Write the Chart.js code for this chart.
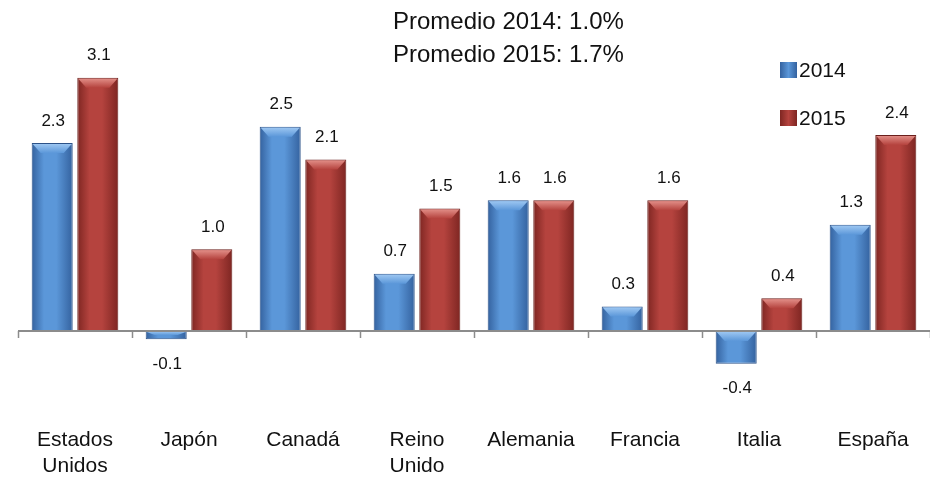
<!DOCTYPE html>
<html>
<head>
<meta charset="utf-8">
<script src="https://cdn.jsdelivr.net/npm/chart.js@4.4.1/dist/chart.umd.min.js"></script>
<style>
  html, body { margin: 0; padding: 0; background: #fff; }
  #wrap { width: 930px; height: 482px; }
</style>
</head>
<body>
<div id="wrap"><canvas id="grafico"></canvas></div>
<script>
const paises = [['Estados', 'Unidos'], 'Japón', 'Canadá', ['Reino', 'Unido'], 'Alemania', 'Francia', 'Italia', 'España'];
const series = ['2014', '2015'];
const valores2014 = [2.3, -0.1, 2.5, 0.7, 1.6, 0.3, -0.4, 1.3];
const valores2015 = [3.1, 1.0, 2.1, 1.5, 1.6, 1.6, 0.4, 2.4];
const promedios = ['Promedio 2014: 1.0%', 'Promedio 2015: 1.7%'];

const FONT = '"Liberation Sans", Arial, sans-serif';
const CAT_PCT = 0.8, BAR_PCT = 0.9;

const tonos = [
    { dark: '#34629f', light: '#5b97d9', mid: '#4a7fc0', hi: '#a3cbf4', edge: '#2c5288' },
    { dark: '#7e2622', light: '#b5433e', mid: '#a0372f', hi: '#e6958e', edge: '#6a1f1c' }
];

function barColor(ctx) {
    const t = tonos[ctx.datasetIndex];
    if (ctx.type !== 'data') return t.mid;
    const xs = ctx.chart.scales.x;
    if (!xs || !xs.width) return t.mid;
    const cw = xs.width / paises.length;
    const slot = cw * CAT_PCT / 2;
    const cx = xs.getPixelForValue(ctx.dataIndex) + (ctx.datasetIndex === 0 ? -slot / 2 : slot / 2);
    const w = slot * BAR_PCT;
    const g = ctx.chart.ctx.createLinearGradient(cx - w / 2, 0, cx + w / 2, 0);
    g.addColorStop(0, t.dark);
    g.addColorStop(0.3, t.light);
    g.addColorStop(0.6, t.light);
    g.addColorStop(1, t.dark);
    return g;
}

const decoracion = {
    id: 'decoracion',
    afterDatasetsDraw(chart) {
        const c = chart.ctx;
        const xs = chart.scales.x, ys = chart.scales.y;
        const y0 = ys.getPixelForValue(0);

        // bisel superior de cada barra
        chart.data.datasets.forEach((ds, di) => {
            const t = tonos[di];
            chart.getDatasetMeta(di).data.forEach((bar, i) => {
                const top = Math.min(bar.y, bar.base);
                const h = Math.abs(bar.base - bar.y);
                const d = Math.min(10, h / 2);
                const l = bar.x - bar.width / 2, r = bar.x + bar.width / 2;
                const g = c.createLinearGradient(0, top, 0, top + d);
                g.addColorStop(0, t.hi);
                g.addColorStop(1, t.light);
                c.save();
                c.fillStyle = g;
                c.beginPath();
                c.moveTo(l + 1, top + 1);
                c.lineTo(r - 1, top + 1);
                c.lineTo(r - 9, top + d);
                c.lineTo(l + 9, top + d);
                c.closePath();
                c.fill();
                c.restore();
            });
        });

        // eje en cero y marcas
        c.save();
        c.strokeStyle = '#8c8c8c';
        c.lineWidth = 2;
        c.beginPath();
        c.moveTo(xs.left, y0);
        c.lineTo(xs.right, y0);
        c.stroke();
        const cw = xs.width / paises.length;
        c.lineWidth = 1.5;
        for (let i = 0; i <= paises.length; i++) {
            const x = Math.round(xs.left + i * cw) + 0.5;
            c.beginPath();
            c.moveTo(x, y0);
            c.lineTo(x, y0 + 7);
            c.stroke();
        }
        c.restore();

        // etiquetas de valores
        c.save();
        c.font = '17px ' + FONT;
        c.fillStyle = '#111';
        c.textAlign = 'center';
        c.textBaseline = 'middle';
        chart.data.datasets.forEach((ds, di) => {
            chart.getDatasetMeta(di).data.forEach((bar, i) => {
                const v = ds.data[i];
                const y = v >= 0 ? bar.y - 22 : bar.y + 25;
                c.fillText(v.toFixed(1), bar.x + 1, y);
            });
        });
        c.restore();

        // promedios
        c.save();
        c.font = '24px ' + FONT;
        c.fillStyle = '#111';
        c.textAlign = 'left';
        c.textBaseline = 'middle';
        c.fillText(promedios[0], 393, 22);
        c.fillText(promedios[1], 393, 55);
        c.restore();

        // leyenda
        c.save();
        c.font = '21px ' + FONT;
        c.textBaseline = 'middle';
        c.textAlign = 'left';
        [70, 118].forEach((yy, di) => {
            const t = tonos[di];
            const g = c.createLinearGradient(780, 0, 797, 0);
            g.addColorStop(0, t.dark);
            g.addColorStop(0.5, t.light);
            g.addColorStop(1, t.dark);
            c.fillStyle = g;
            c.fillRect(780, yy - 8, 17, 16);
            c.fillStyle = '#111';
            c.fillText(series[di], 799, yy + 1);
        });
        c.restore();
    }
};

new Chart(document.getElementById('grafico'), {
    type: 'bar',
    data: {
        labels: paises,
        datasets: [
            { label: series[0], data: valores2014, backgroundColor: barColor, borderColor: tonos[0].edge, borderWidth: 1 },
            { label: series[1], data: valores2015, backgroundColor: barColor, borderColor: tonos[1].edge, borderWidth: 1 }
        ]
    },
    options: {
        responsive: true,
        maintainAspectRatio: false,
        animation: false,
        categoryPercentage: CAT_PCT,
        barPercentage: BAR_PCT,
        layout: { padding: { left: 18, right: 0, top: 45, bottom: 0 } },
        plugins: { legend: { display: false }, tooltip: { enabled: false }, title: { display: false } },
        scales: {
            x: {
                grid: { display: false, drawTicks: false },
                border: { display: false },
                ticks: {
                    color: '#111',
                    font: { family: FONT, size: 21 },
                    padding: 48,
                    maxRotation: 0,
                    autoSkip: false
                },
                afterFit: s => {
                    s.height = 102;
                    s.paddingLeft = 0;
                    s.paddingRight = 0;
                }
            },
            y: {
                display: false,
                min: -0.6,
                max: 3.5
            }
        }
    },
    plugins: [decoracion]
});
</script>
</body>
</html>
